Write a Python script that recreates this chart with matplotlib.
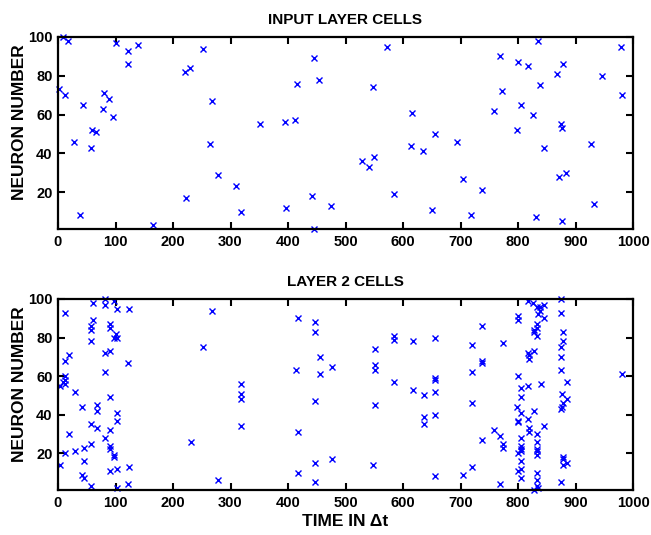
import matplotlib
matplotlib.use("Agg")
import matplotlib.pyplot as plt

plt.rcParams['font.family'] = ['Liberation Sans', 'DejaVu Sans']

# ---- data ----
input_time = [9, 17, 2, 12, 43, 28, 57, 59, 66, 39, 80, 88, 79, 96, 101, 121, 139, 122, 166, 220,
              230, 253, 268, 265, 279, 223, 309, 318,
              352, 394, 413, 416, 446, 454, 396, 441, 445, 474, 528, 540, 550, 547, 572, 584, 616,
              614, 635, 655, 650,
              694, 704, 719, 737, 758, 768, 773, 798, 800, 806, 817, 826, 834, 839, 845, 832, 867,
              878, 874, 877, 872, 884, 876, 927, 933, 946, 979, 980]
input_neuron = [100, 98, 73, 70, 65, 46, 43, 52, 51, 8, 71, 68, 63, 59, 97, 93, 96, 86, 3, 82,
                84, 94, 67, 45, 29, 17, 23, 10,
                55, 56, 57, 76, 89, 78, 12, 18, 1, 13, 36, 33, 38, 74, 95, 19, 61,
                44, 41, 50, 11,
                46, 27, 8, 21, 62, 90, 72, 52, 87, 65, 85, 60, 98, 75, 43, 7, 81,
                86, 55, 53, 28, 30, 5, 45, 14, 80, 95, 70]

layer2_time = [13, 61, 82, 82, 98, 103, 123, 61, 57, 57, 90, 90, 100, 103, 98, 57, 82, 90, 19, 13,
               122, 82, 12, 12, 9, 13, 3, 30, 90,
               41, 68, 68, 103, 103, 57, 68, 90, 19, 82, 57, 90, 90, 45, 30, 12, 98, 98, 3, 45, 90,
               103, 123, 41, 45, 57, 103, 122,
               268, 253, 231, 279, 319, 319, 319, 319,
               417, 447, 447, 456, 414, 456, 476, 447, 417, 447, 417, 447, 476,
               551, 551, 551, 551, 547, 585, 585, 585, 617, 617, 636, 636, 636,
               656, 656, 656, 656, 656, 656,
               738, 720, 774, 738, 738, 720, 720, 759, 769, 738, 774, 774, 720, 705, 769,
               800, 800, 800, 806, 806, 799, 806, 800, 800, 806, 806, 806, 800, 806, 806, 800, 806, 806,
               818, 818, 819, 819, 818, 818, 819, 819,
               826, 827, 827, 827, 827, 828,
               833, 834, 833, 833, 833, 840, 833, 833, 833, 833, 833, 833, 833, 833, 835,
               838, 838, 846, 846, 846,
               875, 874, 879, 879, 874, 874, 874, 886, 877, 886, 878, 876, 874, 878, 879, 885, 879, 874,
               980]
layer2_neuron = [93, 98, 100, 97, 99, 95, 95, 89, 86, 84, 87, 85, 82, 80, 80, 78, 72, 73, 71, 68,
                 67, 62, 60, 58, 57, 56, 55, 52, 49,
                 44, 45, 42, 41, 37, 35, 33, 32, 30, 28, 25, 24, 22, 23, 21, 20, 19, 18, 14, 16, 11,
                 12, 13, 9, 7, 3, 2, 4,
                 94, 75, 26, 6, 56, 51, 48, 34,
                 90, 88, 83, 70, 63, 61, 65, 47, 31, 15, 10, 5, 17,
                 74, 66, 63, 45, 14, 81, 79, 57, 78, 53, 50, 39, 35,
                 80, 59, 58, 52, 40, 8,
                 86, 76, 77, 68, 67, 62, 46, 32, 29, 27, 25, 23, 13, 9, 4,
                 91, 89, 60, 54, 49, 44, 41, 37, 36, 28, 24, 22, 20, 21, 16, 11, 12, 7,
                 99, 72, 71, 69, 55, 38, 33, 31,
                 98, 84, 83, 73, 42, 1,
                 96, 92, 87, 85, 81, 56, 30, 26, 22, 21, 19, 10, 6, 3, 2,
                 96, 94, 97, 90, 34,
                 100, 93, 83, 78, 75, 70, 63, 57, 51, 48, 46, 44, 43, 18, 17, 15, 14, 5,
                 61]

x_ticks = [0, 100, 200, 300, 400, 500, 600, 700, 800, 900, 1000]
y_ticks = [20, 40, 60, 80, 100]
titles = ["INPUT LAYER CELLS", "LAYER 2 CELLS"]

fig = plt.figure(figsize=(6.51, 5.35), dpi=100)
ax1 = fig.add_axes([58/651, 1 - 229/535, 575/651, 192/535])
ax2 = fig.add_axes([58/651, 1 - 490/535, 575/651, 191/535])

for ax, xs, ys, title in [(ax1, input_time, input_neuron, titles[0]),
                          (ax2, layer2_time, layer2_neuron, titles[1])]:
    ax.plot(xs, ys, linestyle='none', marker='x', color='#0000ff',
            markersize=4.5, markeredgewidth=1.0, clip_on=False)
    ax.set_xlim(0, 1000)
    ax.set_ylim(1, 100)
    ax.set_xticks(x_ticks)
    ax.set_yticks(y_ticks)
    ax.tick_params(direction='in', length=5, width=1.5, top=True, right=True,
                   labelsize=10.5, pad=4)
    for lab in ax.get_xticklabels() + ax.get_yticklabels():
        lab.set_fontweight('bold')
    for sp in ax.spines.values():
        sp.set_linewidth(1.6)
    ax.set_title(title, fontsize=11, fontweight='bold', pad=9)
    ax.set_ylabel("NEURON NUMBER", fontsize=12.5, fontweight='bold')
    ax.yaxis.set_label_coords(-0.054, 0.555)

ax2.set_xlabel("TIME IN \u0394t", fontsize=12.5, fontweight='bold', labelpad=3)

fig.savefig("out.png", dpi=100)
